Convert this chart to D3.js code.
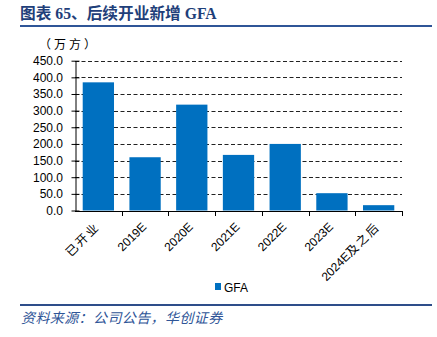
<!DOCTYPE html>
<html><head><meta charset="utf-8">
<script src="https://cdn.jsdelivr.net/npm/d3@7"></script>
<style>body{margin:0;background:#fff}svg{display:block}</style>
</head><body>
<script>
const categories = ["已开业","2019E","2020E","2021E","2022E","2023E","2024E及之后"];
const gfaValues = [385, 160, 318, 167, 200, 52, 16];
const yTicks = [0,50,100,150,200,250,300,350,400,450];
const seriesName = "GFA";
const titleText = "图表 65、后续开业新增 GFA";
const unitText = "（万方）";
const sourceText = "资料来源：公司公告，华创证券";

const W = 437, H = 337;
const svg = d3.select("body").append("svg").attr("width", W).attr("height", H);

const blue = "#0070C0";
const navy = "#1F3F7A";

// title
svg.append("text").attr("x", 20).attr("y", 19)
  .attr("font-family", "'Liberation Serif','Noto Sans CJK SC',serif")
  .attr("font-weight", "bold").attr("font-size", 15.7).attr("fill", navy)
  .text(titleText);
svg.append("line").attr("x1", 20).attr("x2", 432).attr("y1", 26).attr("y2", 26)
  .attr("stroke", "#2F5597").attr("stroke-width", 2);

svg.append("text").attr("x", 39).attr("y", 49)
  .attr("font-family", "'Noto Sans CJK SC',sans-serif").attr("font-size", 12)
  .attr("letter-spacing", 3).attr("fill", "#000")
  .text(unitText);

const pLeft = 75, pRight = 402, pTop = 60.7, pBottom = 210.5;
const x = d3.scaleBand().domain(categories).range([pLeft, pRight]).paddingInner(0.33).paddingOuter(0.165);
const y = d3.scaleLinear().domain([0, 450]).range([pBottom, pTop]);

// gridlines
svg.append("g").selectAll("line").data(yTicks.filter(d => d > 0)).join("line")
  .attr("x1", pLeft).attr("x2", pRight)
  .attr("y1", d => Math.round(y(d)) + 0.5).attr("y2", d => Math.round(y(d)) + 0.5)
  .attr("stroke", "#222").attr("stroke-width", 1).attr("stroke-dasharray", "4,2.5");

// bars
svg.append("g").selectAll("rect").data(gfaValues).join("rect")
  .attr("x", (d, i) => x(categories[i]))
  .attr("width", x.bandwidth())
  .attr("y", d => y(d))
  .attr("height", d => pBottom - y(d))
  .attr("fill", blue);

// y axis
const yAxis = d3.axisLeft(y).tickValues(yTicks).tickFormat(d3.format(".1f")).tickSize(4).tickSizeOuter(0);
const gy = svg.append("g").attr("transform", `translate(${pLeft + 0.5},0)`).call(yAxis);
gy.select(".domain").attr("stroke", "#000");
gy.selectAll(".tick line").attr("stroke", "#000").attr("x1", 4).attr("x2", -4);
gy.selectAll(".tick text").attr("font-family", "'Liberation Sans',Arial,sans-serif")
  .attr("font-size", 12).attr("fill", "#000").attr("x", -12.5);

// x axis baseline and ticks at category boundaries
const gx = svg.append("g");
gx.append("line").attr("x1", pLeft).attr("x2", pRight + 0.5).attr("y1", Math.round(pBottom) + 0.5).attr("y2", Math.round(pBottom) + 0.5)
  .attr("stroke", "#000");
const boundaries = d3.range(categories.length + 1).map(i => pLeft + (pRight - pLeft) * i / categories.length);
gx.selectAll("line.b").data(boundaries.slice(1)).join("line").attr("class", "b")
  .attr("x1", d => Math.round(d) + 0.5).attr("x2", d => Math.round(d) + 0.5)
  .attr("y1", Math.round(pBottom)).attr("y2", Math.round(pBottom) + 5)
  .attr("stroke", "#000");

// x labels (CJK characters slightly spaced like the reference)
const labels = gx.selectAll("text").data(categories).join("text")
  .attr("transform", d => `translate(${x(d) + x.bandwidth() / 2 + 2},${pBottom + 17}) rotate(-45)`)
  .attr("text-anchor", "end")
  .attr("font-family", "'Liberation Sans','Noto Sans CJK SC',sans-serif")
  .attr("font-size", 12).attr("fill", "#000");
labels.each(function(d) {
  const t = d3.select(this);
  const parts = d.match(/[\u4e00-\u9fff]+|[^\u4e00-\u9fff]+/g);
  parts.forEach(p => {
    const isCJK = /[\u4e00-\u9fff]/.test(p);
    t.append("tspan").attr("letter-spacing", isCJK ? 2 : 0).text(p);
  });
});

// legend
svg.append("rect").attr("x", 215).attr("y", 283).attr("width", 6).attr("height", 7).attr("fill", blue);
svg.append("text").attr("x", 224).attr("y", 292)
  .attr("font-family", "'Liberation Sans',Arial,sans-serif").attr("font-size", 12).attr("fill", "#000")
  .text(seriesName);

// footer
svg.append("line").attr("x1", 20).attr("x2", 432).attr("y1", 305).attr("y2", 305)
  .attr("stroke", "#2E4E8A").attr("stroke-width", 2);
svg.append("text").attr("x", 21).attr("y", 323)
  .attr("font-family", "'Noto Sans CJK SC',sans-serif").attr("font-style", "italic")
  .attr("font-size", 14).attr("letter-spacing", 0.4).attr("fill", "#2F5597")
  .text(sourceText);
</script>
</body></html>
